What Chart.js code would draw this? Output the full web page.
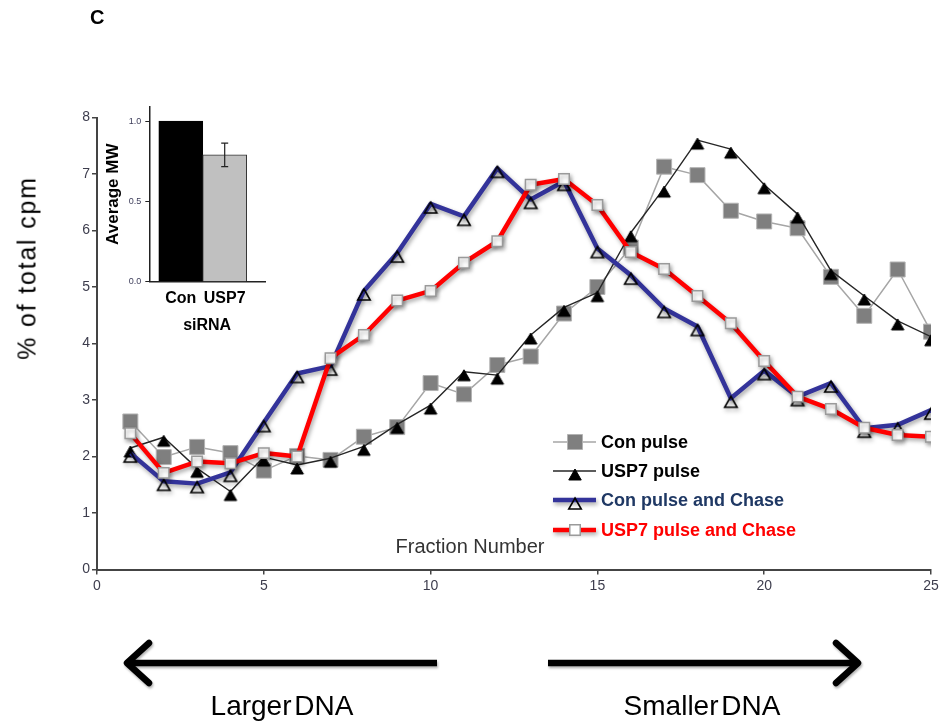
<!DOCTYPE html>
<html>
<head>
<meta charset="utf-8">
<script src="https://cdn.jsdelivr.net/npm/chart.js@4.4.1/dist/chart.umd.min.js"></script>
<style>
  html, body { margin: 0; padding: 0; background: #fff; }
  #wrap { position: relative; width: 943px; height: 725px; overflow: hidden;
          font-family: "Liberation Sans", Arial, sans-serif; }
  #main { position: absolute; left: 0; top: 0; }
  #inset { position: absolute; left: 95px; top: 95px; }
  .lbl { position: absolute; white-space: nowrap; color: #000; }
  #arrows { position: absolute; left: 0; top: 0; filter: drop-shadow(1px 2px 1px rgba(0,0,0,0.3)); }
</style>
</head>
<body>
<div id="wrap">
  <canvas id="main" width="943" height="725"></canvas>
  <canvas id="inset" width="180" height="240"></canvas>

  <div class="lbl" style="left:90px; top:6px; font: bold 20px 'Liberation Sans', Arial, sans-serif;">C</div>
  <div class="lbl" style="left:27px; top:268px; font: 25px 'Liberation Sans', Arial, sans-serif; letter-spacing: 1.8px;
       transform: translate(-50%, -50%) rotate(-90deg);">% of total cpm</div>
  <div class="lbl" style="left:470px; top:546px; font: 20px 'Liberation Sans', Arial, sans-serif; color:#333;
       transform: translate(-50%, -50%);">Fraction Number</div>

  <svg id="arrows" width="943" height="725" viewBox="0 0 943 725">
    <g stroke="#000" stroke-width="6.5" fill="none" stroke-linecap="round" stroke-linejoin="round">
      <line x1="130" y1="663" x2="437" y2="663" stroke-linecap="butt"/>
      <polyline points="149,643 127,663 149,683"/>
      <line x1="548" y1="663" x2="854" y2="663" stroke-linecap="butt"/>
      <polyline points="836,643 858,663 836,683"/>
    </g>
  </svg>
  <div class="lbl" style="left:282px; top:706px; font: 28px 'Liberation Sans', Arial, sans-serif; word-spacing:-5px;
       transform: translate(-50%, -50%);">Larger DNA</div>
  <div class="lbl" style="left:702px; top:706px; font: 28px 'Liberation Sans', Arial, sans-serif; word-spacing:-5px;
       transform: translate(-50%, -50%);">Smaller DNA</div>
</div>

<script>
// ---- data -------------------------------------------------------------
const fractions = [1, 2, 3, 4, 5, 6, 7, 8, 9, 10, 11, 12, 13, 14, 15, 16, 17, 18, 19, 20, 21, 22, 23, 24, 25];

const conPulse = [2.62, 1.99, 2.17, 2.06, 1.75, 2.01, 1.94, 2.35, 2.52, 3.30, 3.10, 3.62, 3.77,
                  4.53, 5.00, 5.70, 7.13, 6.98, 6.35, 6.16, 6.04, 5.18, 4.49, 5.31, 4.21];

const usp7Pulse = [2.15, 2.34, 1.79, 1.38, 1.99, 1.85, 1.97, 2.18, 2.57, 2.91, 3.50, 3.44, 4.15,
                   4.64, 4.90, 5.96, 6.75, 7.60, 7.44, 6.81, 6.29, 5.29, 4.84, 4.40, 4.12];

const conChase = [2.06, 1.56, 1.52, 1.72, 2.60, 3.47, 3.60, 4.93, 5.60, 6.47, 6.25, 7.10, 6.55,
                  6.87, 5.68, 5.21, 4.62, 4.30, 3.03, 3.52, 3.06, 3.30, 2.50, 2.56, 2.82];

const usp7Chase = [2.41, 1.71, 1.91, 1.88, 2.06, 2.00, 3.74, 4.15, 4.76, 4.93, 5.43, 5.81, 6.81,
                   6.91, 6.45, 5.62, 5.32, 4.84, 4.36, 3.69, 3.06, 2.84, 2.51, 2.38, 2.35];

const seriesNames = ['Con pulse', 'USP7 pulse', 'Con pulse and Chase', 'USP7 pulse and Chase'];

const xTicks = [0, 5, 10, 15, 20, 25];
const yTicks = [0, 1, 2, 3, 4, 5, 6, 7, 8];

// inset: average molecular weight by siRNA
const siRNAGroups = ['Con', 'USP7'];
const avgMW = [1.0, 0.79];
const avgMWErr = [0, 0.073];
const insetTicks = [0, 0.5, 1.0];

// ---- helpers ----------------------------------------------------------
Chart.defaults.font.family = "'Liberation Sans', Arial, sans-serif";

const toPoints = (ys) => fractions.map((x, i) => ({ x: x, y: ys[i] }));

// triangle marker hanging just below its data point
function triangleMarker(w, h, fill, stroke, lw, apexOffset) {
  const pad = lw + 2;
  const half = Math.ceil(Math.max(h + Math.abs(apexOffset), w / 2) + pad);
  const c = document.createElement('canvas');
  c.width = 2 * half; c.height = 2 * half;
  const g = c.getContext('2d');
  const cx = half, top = half + apexOffset;
  g.beginPath();
  g.moveTo(cx, top);
  g.lineTo(cx + w / 2, top + h);
  g.lineTo(cx - w / 2, top + h);
  g.closePath();
  if (fill) { g.fillStyle = fill; g.fill(); }
  g.lineWidth = lw; g.strokeStyle = stroke; g.lineJoin = 'miter';
  g.stroke();
  return c;
}

const solidTri = triangleMarker(12.5, 11, '#000', '#000', 1, -2);
const openTri = triangleMarker(12.5, 11, null, '#000', 1.6, -2);

const styles = [
  { line: '#a6a6a6', width: 1.5, pointStyle: 'rect', radius: 10.6, fill: '#7f7f7f', border: '#b3b3b3', bw: 1, text: '#000' },
  { line: '#262626', width: 1.4, pointStyle: solidTri, radius: 7, fill: '#000', border: '#000', bw: 1, text: '#000' },
  { line: '#33339a', width: 4.5, pointStyle: openTri, radius: 7, fill: 'rgba(0,0,0,0)', border: '#000', bw: 1.5, text: '#1f3864', shadow: true },
  { line: '#ff0000', width: 4.5, pointStyle: 'rect', radius: 7.4, fill: '#ffffff', border: '#9a9a9a', bw: 1.5, text: '#ff0000', shadow: true }
];

const seriesValues = [conPulse, usp7Pulse, conChase, usp7Chase];
const drawOrder = [3, 2, 1, 0];

const datasets = seriesValues.map((vals, i) => {
  const s = styles[i];
  return {
    label: seriesNames[i],
    data: toPoints(vals),
    borderColor: s.line,
    borderWidth: s.width,
    backgroundColor: s.fill,
    pointStyle: s.pointStyle,
    pointRadius: s.radius,
    pointBackgroundColor: s.fill,
    pointBorderColor: s.border,
    pointBorderWidth: s.bw,
    tension: 0,
    fill: false,
    borderJoinStyle: 'round',
    order: drawOrder[i],
    shadow: !!s.shadow
  };
});

// soft drop shadow beneath the thick chase lines
const shadowPlugin = {
  id: 'lineShadow',
  beforeDatasetDraw(chart, args) {
    const ds = chart.data.datasets[args.index];
    const ctx = chart.ctx;
    ctx.save();
    if (ds.shadow) {
      ctx.shadowColor = 'rgba(0,0,0,0.35)';
      ctx.shadowBlur = 4;
      ctx.shadowOffsetX = 1.5;
      ctx.shadowOffsetY = 2.5;
    }
  },
  afterDatasetDraw(chart) {
    chart.ctx.restore();
  }
};

// legend drawn inside the plot area
const legendRows = [442, 471, 500, 530];
const insideLegend = {
  id: 'insideLegend',
  afterDatasetsDraw(chart) {
    const ctx = chart.ctx;
    const x0 = 553, x1 = 596, xm = 575, xt = 601;
    seriesNames.forEach((name, i) => {
      const s = styles[i];
      const y = legendRows[i];
      ctx.save();
      if (s.shadow) {
        ctx.shadowColor = 'rgba(0,0,0,0.35)';
        ctx.shadowBlur = 4; ctx.shadowOffsetX = 1.5; ctx.shadowOffsetY = 2.5;
      }
      ctx.strokeStyle = s.line; ctx.lineWidth = s.width;
      ctx.beginPath(); ctx.moveTo(x0, y); ctx.lineTo(x1, y); ctx.stroke();
      ctx.restore();
      ctx.save();
      if (s.pointStyle === 'rect') {
        const side = s.radius * Math.SQRT2;
        ctx.fillStyle = s.fill; ctx.strokeStyle = s.border; ctx.lineWidth = s.bw;
        ctx.beginPath(); ctx.rect(xm - side / 2, y - side / 2, side, side);
        ctx.fill(); ctx.stroke();
      } else {
        ctx.drawImage(s.pointStyle, xm - s.pointStyle.width / 2, y - s.pointStyle.height / 2);
      }
      ctx.fillStyle = s.text;
      ctx.font = "bold 18px 'Liberation Sans', Arial, sans-serif";
      ctx.textBaseline = 'middle';
      ctx.textAlign = 'left';
      ctx.fillText(name, xt, y + 1);
      ctx.restore();
    });
  }
};

const axisColor = '#444';
const tickColor = '#3d3d4d';

new Chart(document.getElementById('main'), {
  type: 'line',
  data: { datasets: datasets },
  options: {
    responsive: false,
    animation: false,
    devicePixelRatio: 1,
    layout: { padding: { top: 117.5, right: 12, bottom: 115.5, left: 0 } },
    plugins: { legend: { display: false }, tooltip: { enabled: false } },
    scales: {
      x: {
        type: 'linear', min: 0, max: 25,
        afterBuildTicks(scale) { scale.ticks = xTicks.map(v => ({ value: v })); },
        afterFit(scale) { scale.height = 40; },
        ticks: { color: tickColor, font: { size: 14 }, padding: 3, maxRotation: 0 },
        grid: { drawOnChartArea: false, drawTicks: true, tickLength: 5, color: axisColor, lineWidth: 1.5 },
        border: { color: axisColor, width: 2 }
      },
      y: {
        min: 0, max: 8,
        afterBuildTicks(scale) { scale.ticks = yTicks.map(v => ({ value: v })); },
        afterFit(scale) { scale.width = 97; },
        ticks: { color: tickColor, font: { size: 14 }, padding: 2 },
        grid: { drawOnChartArea: false, drawTicks: true, tickLength: 5, color: axisColor, lineWidth: 1.5 },
        border: { color: axisColor, width: 2 }
      }
    }
  },
  plugins: [shadowPlugin, insideLegend]
});

// ---- inset bar chart --------------------------------------------------
const errorBars = {
  id: 'errorBars',
  afterDatasetsDraw(chart) {
    const ctx = chart.ctx;
    const meta = chart.getDatasetMeta(0);
    const ys = chart.scales.y;
    meta.data.forEach((bar, i) => {
      const e = avgMWErr[i];
      if (!e) return;
      const top = ys.getPixelForValue(avgMW[i] + e);
      const bot = ys.getPixelForValue(avgMW[i] - e);
      ctx.save();
      ctx.strokeStyle = '#222'; ctx.lineWidth = 1.2;
      ctx.beginPath();
      ctx.moveTo(bar.x, top); ctx.lineTo(bar.x, bot);
      ctx.moveTo(bar.x - 3.5, top); ctx.lineTo(bar.x + 3.5, top);
      ctx.moveTo(bar.x - 3.5, bot); ctx.lineTo(bar.x + 3.5, bot);
      ctx.stroke();
      ctx.restore();
    });
  }
};

new Chart(document.getElementById('inset'), {
  type: 'bar',
  data: {
    datasets: [{
      data: siRNAGroups.map((g, i) => ({ x: i + 1, y: avgMW[i] })),
      backgroundColor: ['#000000', '#c0c0c0'],
      borderColor: ['#000000', '#333333'],
      borderWidth: 1,
      borderSkipped: 'bottom',
      barThickness: 44
    }]
  },
  options: {
    responsive: false,
    animation: false,
    devicePixelRatio: 1,
    layout: { padding: { top: 11.7, right: 10, left: 0, bottom: 0 } },
    plugins: { legend: { display: false }, tooltip: { enabled: false } },
    scales: {
      x: {
        type: 'linear', min: 0.2825, max: 2.918, offset: false,
        afterBuildTicks(scale) { scale.ticks = siRNAGroups.map((g, i) => ({ value: i + 1 })); },
        afterFit(scale) { scale.height = 53.3; },
        ticks: {
          callback: (v) => siRNAGroups[v - 1],
          color: '#000', font: { size: 16, weight: 'bold' }, padding: 7, maxRotation: 0, autoSkip: false
        },
        grid: { display: false, drawTicks: false },
        border: { color: '#222', width: 1.5 },
        title: { display: true, text: 'siRNA', color: '#000', font: { size: 16, weight: 'bold' }, padding: { top: 1, bottom: 0 } }
      },
      y: {
        min: 0, max: 1.09,
        afterBuildTicks(scale) { scale.ticks = insetTicks.map(v => ({ value: v })); },
        afterFit(scale) { scale.width = 54.3; },
        ticks: { callback: (v) => v.toFixed(1), color: '#3d3d5a', font: { size: 9 }, padding: 4 },
        grid: { drawOnChartArea: false, drawTicks: true, tickLength: 4, color: '#222' },
        border: { color: '#222', width: 1.5 },
        title: { display: true, text: 'Average MW', color: '#000', font: { size: 17, weight: 'bold' }, padding: { top: 8, bottom: 0 } }
      }
    }
  },
  plugins: [errorBars]
});
</script>
</body>
</html>
